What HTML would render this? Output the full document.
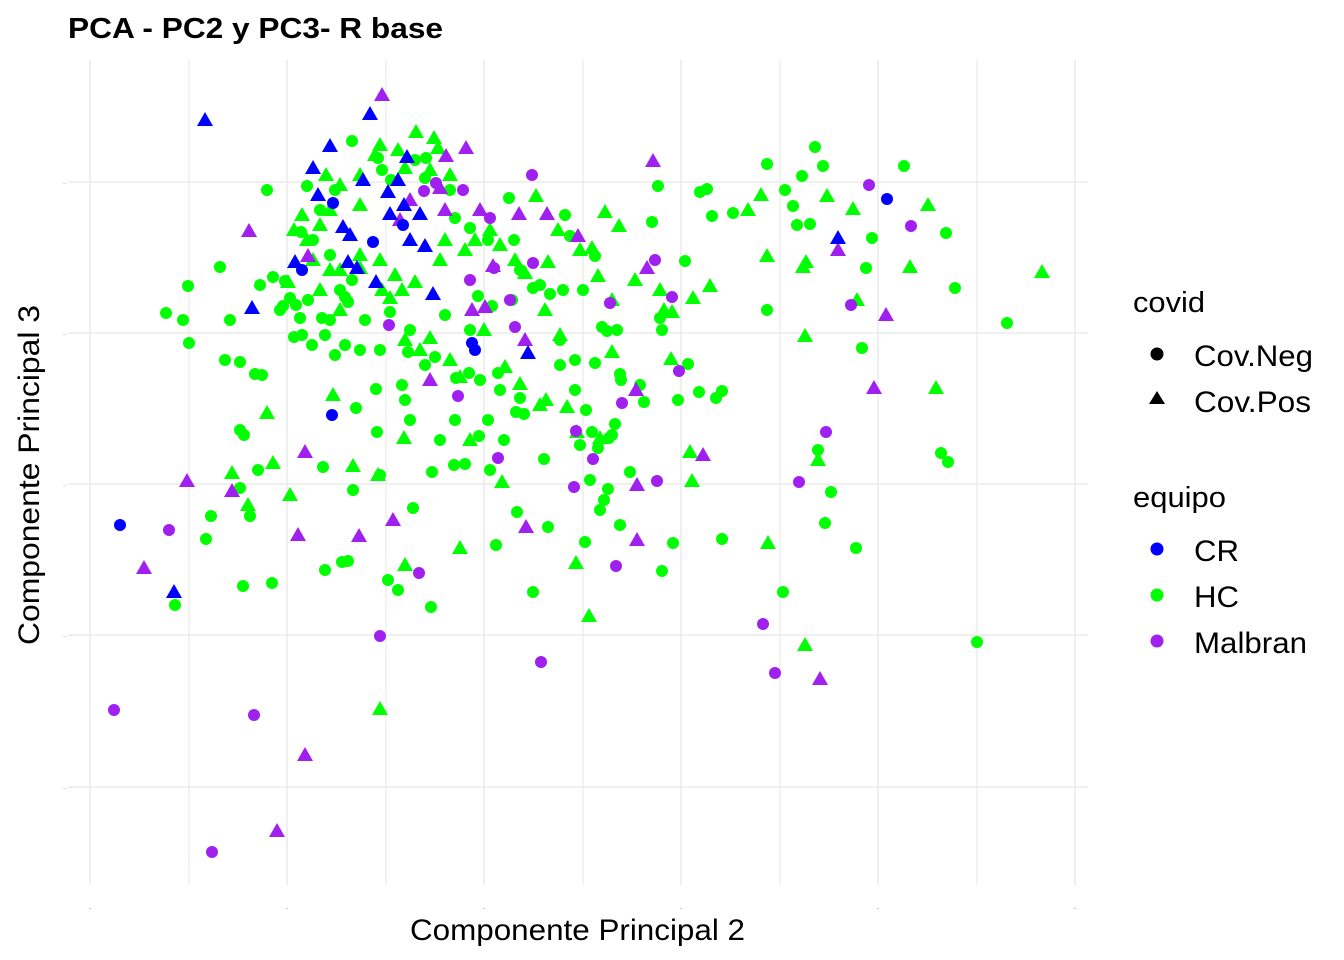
<!DOCTYPE html>
<html><head><meta charset="utf-8">
<style>
html,body{margin:0;padding:0;background:#fff;}
svg{display:block;font-family:"Liberation Sans",Arial,sans-serif;}
</style></head>
<body>
<svg id="chart" width="1344" height="960" viewBox="0 0 1344 960" xmlns="http://www.w3.org/2000/svg">
  <rect x="0" y="0" width="1344" height="960" fill="#fff"/>
  <g id="grid"></g>
  <g id="points"></g>
  <text x="68" y="38" font-size="29" font-weight="bold" fill="#000" textLength="375" lengthAdjust="spacingAndGlyphs">PCA - PC2 y PC3- R base</text>
  <text x="410" y="940" font-size="30" fill="#000" textLength="335" lengthAdjust="spacingAndGlyphs">Componente Principal 2</text>
  <text transform="translate(39,645) rotate(-90)" font-size="30" fill="#000" textLength="340" lengthAdjust="spacingAndGlyphs">Componente Principal 3</text>
  <g>
    <text x="1133" y="312" font-size="29" textLength="72" lengthAdjust="spacingAndGlyphs">covid</text>
    <circle cx="1157" cy="354" r="6.5" fill="#000"/>
    <text x="1194" y="366" font-size="30" textLength="119" lengthAdjust="spacingAndGlyphs">Cov.Neg</text>
    <polygon points="1157,391 1165,404 1149,404" fill="#000"/>
    <text x="1194" y="412" font-size="30" textLength="117" lengthAdjust="spacingAndGlyphs">Cov.Pos</text>
    <text x="1133" y="507" font-size="29" textLength="93" lengthAdjust="spacingAndGlyphs">equipo</text>
    <circle cx="1157" cy="549" r="6.5" fill="#0000FF"/>
    <text x="1194" y="561" font-size="30" textLength="45" lengthAdjust="spacingAndGlyphs">CR</text>
    <circle cx="1157" cy="595" r="6.5" fill="#00FF00"/>
    <text x="1194" y="607" font-size="30" textLength="45" lengthAdjust="spacingAndGlyphs">HC</text>
    <circle cx="1157" cy="641" r="6.5" fill="#A020F0"/>
    <text x="1194" y="653" font-size="30" textLength="113" lengthAdjust="spacingAndGlyphs">Malbran</text>
  </g>
</svg>
<script>
// Data: PC2 (x) and PC3 (y) scores per group, in chart score units
const hcNeg = [[166,313],[183,320],[189,343],[188,286],[220,267],[230,320],[225,360],[240,362],[255,374],[262,375],[267,190],[240,430],[244,435],[258,470],[240,488],[250,516],[211,516],[206,539],[175,605],[243,586],[272,583],[323,467],[325,570],[342,562],[348,561],[353,490],[380,475],[388,580],[398,590],[431,607],[413,508],[432,472],[454,465],[465,464],[490,470],[496,545],[533,592],[517,512],[548,527],[544,459],[585,542],[600,510],[590,480],[604,500],[608,489],[620,525],[630,472],[662,571],[673,543],[722,539],[783,592],[856,548],[825,523],[831,492],[818,450],[941,453],[948,462],[977,642],[1007,323],[955,288],[946,233],[904,166],[872,238],[866,268],[862,348],[815,147],[823,166],[767,164],[802,176],[785,190],[793,206],[797,225],[810,224],[767,310],[700,192],[707,189],[712,216],[733,213],[685,261],[688,364],[678,400],[699,392],[716,398],[722,391],[658,186],[652,222],[660,318],[662,330],[620,374],[595,363],[575,360],[560,365],[570,236],[565,215],[595,256],[583,290],[563,290],[550,294],[540,285],[512,300],[498,373],[500,390],[520,398],[516,412],[524,414],[488,420],[479,436],[504,440],[480,380],[455,420],[440,440],[410,420],[405,400],[377,432],[376,389],[356,408],[335,355],[312,345],[302,335],[294,337],[296,305],[308,300],[322,318],[330,320],[345,297],[340,290],[352,280],[330,255],[307,186],[320,210],[335,190],[352,141],[378,158],[382,170],[391,180],[415,160],[425,178],[426,158],[450,190],[455,218],[470,228],[488,240],[509,198],[514,240],[520,270],[533,288],[290,298],[280,310],[260,285],[273,277],[285,281],[301,232],[313,240],[283,306],[300,318],[348,302],[365,320],[390,312],[410,330],[445,315],[470,330],[380,350],[408,352],[425,365],[402,385],[360,350],[345,345],[325,335],[560,340],[575,390],[598,448],[580,445],[592,432],[612,435],[609,438],[586,410],[615,424],[644,402],[621,380],[640,385],[607,331],[602,327],[617,330],[435,357],[456,378],[469,373],[478,296],[492,306]];
const hcPos = [[434,138],[380,145],[375,155],[398,150],[405,168],[430,170],[450,175],[438,148],[416,132],[360,175],[340,185],[326,175],[330,210],[320,225],[302,215],[294,230],[307,240],[313,260],[330,270],[320,290],[340,270],[360,255],[380,260],[395,275],[402,290],[415,282],[440,260],[445,240],[465,250],[475,240],[490,230],[500,245],[515,260],[525,273],[536,196],[548,262],[558,230],[580,250],[592,248],[605,212],[619,226],[598,276],[612,300],[635,280],[660,290],[664,310],[672,312],[693,298],[710,286],[748,210],[761,195],[767,256],[806,262],[803,267],[827,196],[853,209],[910,267],[928,205],[1042,272],[857,300],[805,336],[936,388],[818,460],[768,543],[805,645],[692,481],[690,452],[671,359],[612,352],[560,335],[545,310],[577,432],[600,438],[567,407],[546,400],[520,384],[505,367],[460,377],[450,360],[430,338],[405,340],[390,298],[382,290],[360,268],[340,310],[333,395],[353,466],[404,438],[378,475],[460,548],[502,482],[540,405],[576,563],[589,616],[405,565],[380,709],[267,413],[273,463],[232,473],[290,495],[288,282],[360,205],[248,505],[470,440],[420,350],[484,330]];
const malNeg = [[114,710],[254,715],[212,852],[380,636],[541,662],[775,673],[763,624],[169,530],[419,573],[616,566],[532,175],[463,190],[490,218],[389,325],[515,327],[533,263],[610,303],[655,260],[672,297],[851,305],[869,185],[911,226],[826,432],[799,482],[657,481],[679,371],[622,403],[576,431],[593,459],[574,487],[498,458],[458,396],[424,191],[436,183],[470,280],[494,268],[510,300]];
const malPos = [[382,95],[653,161],[249,231],[446,156],[466,148],[547,214],[519,214],[578,236],[493,266],[485,307],[647,268],[886,315],[874,388],[838,250],[187,481],[144,568],[232,491],[305,452],[298,535],[359,536],[393,520],[526,527],[637,540],[637,485],[636,390],[305,755],[277,831],[820,679],[703,455],[440,188],[400,220],[410,200],[308,256],[445,210],[480,210],[472,310],[430,380],[525,340]];
const crNeg = [[120,525],[333,203],[302,270],[373,242],[332,415],[472,343],[475,350],[887,199],[403,225]];
const crPos = [[205,120],[370,114],[330,146],[313,168],[407,157],[363,180],[388,192],[398,180],[404,205],[420,214],[343,227],[350,235],[410,240],[295,262],[348,262],[357,268],[376,282],[433,294],[252,308],[425,246],[174,592],[528,353],[838,238],[318,195],[390,214]];
const xTicks = [90,287,484,681,878,1075];
const xMinor = [189,386,583,780,977];
const yTicks = [182,333,484,635,787];

// axis functions (domain -> pixel)
const xDom=[90,1075], xRng=[90,1075];
const yDom=[60,885], yRng=[60,885];
function xScale(v){return xRng[0]+(v-xDom[0])*(xRng[1]-xRng[0])/(xDom[1]-xDom[0]);}
function yScale(v){return yRng[0]+(v-yDom[0])*(yRng[1]-yRng[0])/(yDom[1]-yDom[0]);}

const NS='http://www.w3.org/2000/svg';
const grid=document.getElementById('grid');
const pts=document.getElementById('points');
function line(x1,y1,x2,y2,w,name){
  const l=document.createElementNS(NS,'line');
  l.setAttribute('x1',x1);l.setAttribute('y1',y1);l.setAttribute('x2',x2);l.setAttribute('y2',y2);
  l.setAttribute('stroke','#ebebeb');l.setAttribute('stroke-width',w);
  
  
  grid.appendChild(l);
}
xMinor.forEach(v=>line(xScale(v),60,xScale(v),885,1.2,'x-gridline-minor'));
xTicks.forEach(v=>line(xScale(v),60,xScale(v),885,1.6,'x-gridline'));
yTicks.forEach(v=>line(68,yScale(v),1088,yScale(v),1.6,'y-gridline'));
xTicks.forEach(v=>{
  const t=document.createElementNS(NS,'text');
  t.setAttribute('x',xScale(v));t.setAttribute('y',909);t.setAttribute('font-size','5');
  t.setAttribute('text-anchor','middle');t.setAttribute('fill','#4d4d4d');
  t.textContent='..';
  
  
  grid.appendChild(t);
});
yTicks.forEach(v=>{
  const t=document.createElementNS(NS,'text');
  t.setAttribute('x',66);t.setAttribute('y',yScale(v)+2);t.setAttribute('font-size','5');
  t.setAttribute('text-anchor','end');t.setAttribute('fill','#4d4d4d');
  t.textContent='..';
  
  
  grid.appendChild(t);
});

function drawCircles(arr,color,name){
  arr.forEach(p=>{
    const c=document.createElementNS(NS,'circle');
    c.setAttribute('cx',xScale(p[0]));c.setAttribute('cy',yScale(p[1]));c.setAttribute('r',6);
    c.setAttribute('fill',color);
    
    
    pts.appendChild(c);
  });
}
function drawTris(arr,color,name){
  arr.forEach(p=>{
    const x=xScale(p[0]),y=yScale(p[1]);
    const t=document.createElementNS(NS,'polygon');
    t.setAttribute('points',`${x},${y-8} ${x+8},${y+6} ${x-8},${y+6}`);
    t.setAttribute('fill',color);
    
    
    pts.appendChild(t);
  });
}
drawCircles(hcNeg,'#00FF00','point-hc-cov-neg');
drawTris(hcPos,'#00FF00','point-hc-cov-pos');
drawCircles(malNeg,'#A020F0','point-malbran-cov-neg');
drawTris(malPos,'#A020F0','point-malbran-cov-pos');
drawCircles(crNeg,'#0000FF','point-cr-cov-neg');
drawTris(crPos,'#0000FF','point-cr-cov-pos');
</script>
</body></html>
